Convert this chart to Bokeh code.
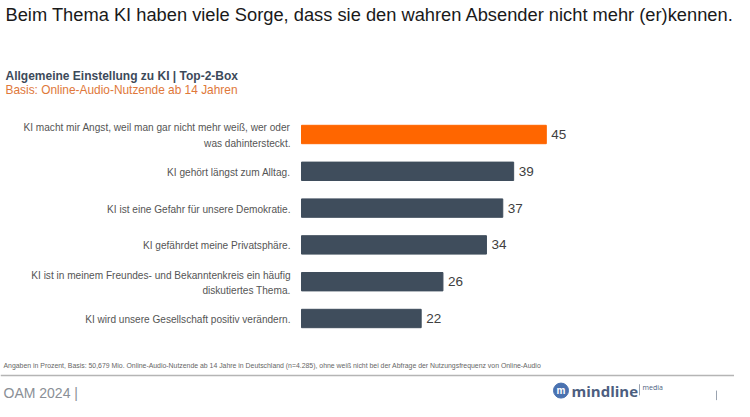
from bokeh.plotting import figure
from bokeh.models import Range1d, Label
from bokeh.core.properties import value
from bokeh.embed import file_html
from bokeh.resources import INLINE

categories = [
    "KI macht mir Angst, weil man gar nicht mehr weiß, wer oder\nwas dahintersteckt.",
    "KI gehört längst zum Alltag.",
    "KI ist eine Gefahr für unsere Demokratie.",
    "KI gefährdet meine Privatsphäre.",
    "KI ist in meinem Freundes- und Bekanntenkreis ein häufig\ndiskutiertes Thema.",
    "KI wird unsere Gesellschaft positiv verändern.",
]
values = [45, 39, 37, 34, 26, 22]
bar_colors = ["#ff6600", "#3f4d5c", "#3f4d5c", "#3f4d5c", "#3f4d5c", "#3f4d5c"]

title_text = "Beim Thema KI haben viele Sorge, dass sie den wahren Absender nicht mehr (er)kennen."
subtitle_text = "Allgemeine Einstellung zu KI | Top-2-Box"
basis_text = "Basis: Online-Audio-Nutzende ab 14 Jahren"
footnote_text = ("Angaben in Prozent, Basis: 50,679 Mio. Online-Audio-Nutzende ab 14 Jahre in Deutschland "
                 "(n=4.285), ohne weiß nicht bei der Abfrage der Nutzungsfrequenz von Online-Audio")
footer_left = "OAM 2024 |"

W, H = 734, 401
PX_X = 5.44      # pixels per percent
X0 = 301         # pixel of value 0
ROW = 36.8       # pixels per row
Y0 = 134         # pixel of first row centre

x_range = Range1d(-X0 / PX_X, (W - X0) / PX_X)
y_range = Range1d((H - Y0) / ROW, -Y0 / ROW)

def rx(px):
    return (px - X0) / PX_X

def ry(py):
    # compress the footer area slightly so it fits the window
    if py > 340:
        py = 340 + (py - 340) * 0.795
    return (py - Y0) / ROW

p = figure(width=W, height=H, x_range=x_range, y_range=y_range,
           output_backend="svg", toolbar_location=None, min_border=0)
p.axis.visible = False
p.grid.visible = False
p.outline_line_color = None
p.background_fill_color = "white"

idx = list(range(len(values)))
p.hbar(y=idx, left=0, right=values, height=0.5, color=bar_colors)

FONT = value("Liberation Sans")
p.text(x=[0] * len(idx), y=idx, text=categories, x_offset=-11, y_offset=1, text_align="right",
       text_baseline="middle", text_font=FONT, text_font_size="10.1px",
       text_color="#555555", text_line_height=1.4)
p.text(x=values, y=idx, text=[str(v) for v in values], x_offset=5, text_align="left",
       text_baseline="middle", text_font=FONT, text_font_size="13.5px", text_color="#404040")

def label(x, y, text, size, color, style="normal", font="Liberation Sans", align="left"):
    p.add_layout(Label(x=rx(x), y=ry(y), text=text, text_font=font, text_font_size=size,
                       text_color=color, text_font_style=style, text_baseline="middle",
                       text_align=align))

label(5, 14, title_text, "18.3px", "#1a1a1a")
label(5, 75, subtitle_text, "12px", "#3d4a5a", style="bold")
label(5, 89, basis_text, "11.9px", "#e0783a")
label(3, 372, footnote_text, "6.9px", "#666666")
label(3, 406, footer_left, "14px", "#8a8f96")

# separator line
p.segment(x0=[rx(0)], y0=[ry(384)], x1=[rx(750)], y1=[ry(384)], line_color="#b5b5b5", line_width=1.5)

# logo
p.scatter(x=[rx(560.5)], y=[ry(403)], size=15, marker="circle", color="#4a72b0")
label(560.5, 403.5, "m", "10px", "white", style="bold", align="center")
label(571, 403, "mindline", "15px", "#4c5e80", style="bold", font="Open Sans")
p.segment(x0=[rx(639)], y0=[ry(395)], x1=[rx(639)], y1=[ry(409)], line_color="#9aa3b0", line_width=1)
label(642, 399, "media", "7px", "#4c5e80", font="Open Sans")
p.segment(x0=[rx(716)], y0=[ry(403)], x1=[rx(716)], y1=[ry(415)], line_color="#9aa3b0", line_width=1)

open("out.html", "w").write(file_html(p, INLINE))
